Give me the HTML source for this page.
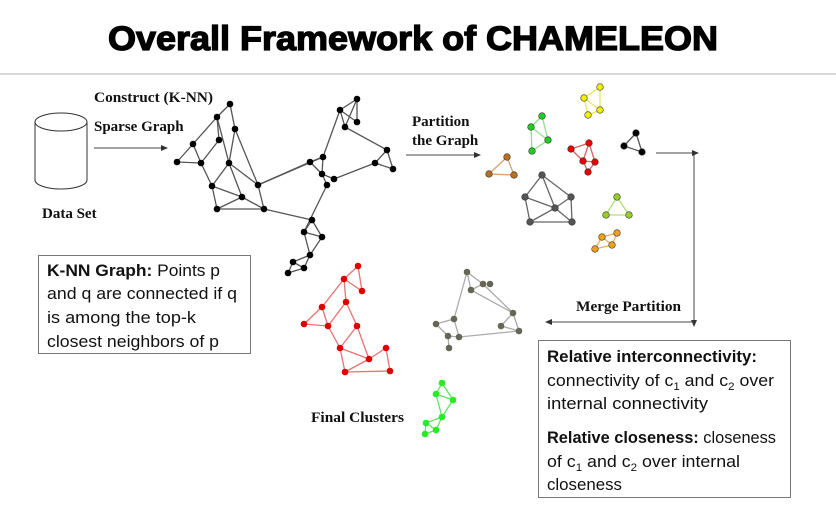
<!DOCTYPE html>
<html><head><meta charset="utf-8"><style>
html,body{margin:0;padding:0;background:#fff;width:836px;height:508px;overflow:hidden}
svg{display:block}
.serif{font-family:"Liberation Serif",serif;font-weight:bold;font-size:15px;fill:#111}
.box{font-family:"Liberation Sans",sans-serif;font-size:17px;fill:#111}
</style></head><body>
<svg id="s" width="836" height="508" viewBox="0 0 836 508">
<text x="108" y="50" textLength="610" lengthAdjust="spacingAndGlyphs" font-family="Liberation Sans,sans-serif" font-weight="900" font-size="34" stroke="#000" stroke-width="1.3" fill="#000">Overall Framework of CHAMELEON</text>
<line x1="0" y1="74" x2="836" y2="74" stroke="#ccc" stroke-width="1.5"/>
<g fill="#fff" stroke="#333" stroke-width="1">
<path d="M35 122 L35 180 A26 9 0 0 0 87 180 L87 122"/>
<ellipse cx="61" cy="122" rx="26" ry="9"/>
</g>
<text x="42" y="218" class="serif">Data Set</text>
<text x="94" y="102" class="serif" textLength="119" lengthAdjust="spacingAndGlyphs">Construct (K-NN)</text>
<text x="94" y="131" class="serif">Sparse Graph</text>
<line x1="94" y1="148" x2="163" y2="148" stroke="#444"/>
<polygon points="168,148 161,145 161,151" fill="#333"/>
<text x="412" y="126" class="serif">Partition</text>
<text x="412" y="145" class="serif">the Graph</text>
<line x1="406" y1="155" x2="476" y2="155" stroke="#444"/>
<polygon points="481,155 474,152 474,158" fill="#333"/>
<polyline points="656,153 694,153 694,322" fill="none" stroke="#444"/>
<polygon points="699,153 692,150 692,156" fill="#333"/>
<polygon points="694,327 691,320 697,320" fill="#333"/>
<line x1="549" y1="322" x2="694" y2="322" stroke="#444"/>
<polygon points="545,322 552,319 552,325" fill="#333"/>
<text x="576" y="311" class="serif" textLength="105" lengthAdjust="spacingAndGlyphs">Merge Partition</text>
<text x="311" y="422" class="serif" textLength="93" lengthAdjust="spacingAndGlyphs">Final Clusters</text>
<g id="graphs"></g>
<rect x="38.5" y="255.5" width="212" height="98" fill="none" stroke="#777"/>
<g class="box">
<text x="47" y="276" textLength="173" lengthAdjust="spacingAndGlyphs"><tspan font-weight="bold">K-NN Graph:</tspan> Points p</text>
<text x="47" y="299" textLength="190" lengthAdjust="spacingAndGlyphs">and q are connected if q</text>
<text x="47" y="323" textLength="149" lengthAdjust="spacingAndGlyphs">is among the top-k</text>
<text x="47" y="347" textLength="172" lengthAdjust="spacingAndGlyphs">closest neighbors of p</text>
</g>
<rect x="538.5" y="340.5" width="252" height="157" fill="none" stroke="#777"/>
<g class="box">
<text x="547" y="362" font-weight="bold" textLength="210" lengthAdjust="spacingAndGlyphs">Relative interconnectivity:</text>
<text x="547" y="386" textLength="227" lengthAdjust="spacingAndGlyphs">connectivity of c<tspan font-size="11" dy="4">1</tspan><tspan dy="-4"> and c</tspan><tspan font-size="11" dy="4">2</tspan><tspan dy="-4"> over</tspan></text>
<text x="547" y="409" textLength="161" lengthAdjust="spacingAndGlyphs">internal connectivity</text>
<text x="547" y="443" textLength="229" lengthAdjust="spacingAndGlyphs"><tspan font-weight="bold">Relative closeness:</tspan> closeness</text>
<text x="547" y="467" textLength="193" lengthAdjust="spacingAndGlyphs">of c<tspan font-size="11" dy="4">1</tspan><tspan dy="-4"> and c</tspan><tspan font-size="11" dy="4">2</tspan><tspan dy="-4"> over internal</tspan></text>
<text x="547" y="490" textLength="75" lengthAdjust="spacingAndGlyphs">closeness</text>
</g>
</svg>
<script>
const graphNames = ["knn-graph","final-red","final-gray","final-green","part-yellow","part-green","part-red","part-black","part-brown","part-dark","part-lime","part-orange"];
const graphEdgeColors = ["#555","#e57373","#aaa","#66e066","#e8e860","#8fe08f","#e06060","#555","#d9a070","#666","#b0e070","#f0b050"];
const graphNodeColors = ["#000","#e00000","#666655","#22ee22","#f0f000","#22cc22","#ee0000","#000","#b87020","#555","#99d020","#f0a020"];
const graphNodes = [
 [[230,104],[217,117],[235,129],[193,144],[219,140],[177,162],[201,163],[229,163],[212,186],[258,185],[242,197],[217,209],[264,209],
  [357,99],[340,110],[357,122],[345,127],[387,150],[375,163],[393,169],[310,162],[323,157],[322,174],[334,179],[327,185],
  [312,220],[304,232],[322,237],[310,255],[293,262],[304,268],[288,273]],
 [[358,266],[344,279],[362,291],[346,302],[322,307],[304,324],[328,326],[357,326],[340,348],[386,348],[369,359],[345,372],[390,371]],
 [[467,272],[483,284],[490,284],[471,290],[513,313],[454,319],[436,324],[501,326],[519,331],[448,336],[459,337],[449,348]],
 [[442,383],[436,394],[453,400],[442,417],[426,423],[436,430],[425,434]],
 [[600,87],[584,98],[600,110],[588,115]],
 [[542,116],[531,127],[548,140],[532,151]],
 [[571,149],[589,143],[583,161],[595,162],[588,172]],
 [[636,133],[624,146],[642,152]],
 [[507,157],[489,174],[514,175]],
 [[542,175],[525,197],[571,197],[555,208],[530,222],[572,222]],
 [[617,197],[606,215],[629,215]],
 [[617,233],[602,237],[612,245],[595,249]]
];
const graphEdges = [
 [[0,1],[0,2],[1,3],[1,7],[1,4],[2,7],[2,9],[3,5],[3,6],[5,6],[4,6],[6,8],[7,8],[7,9],[7,10],[8,11],[8,10],[10,11],[10,12],[9,12],[11,12],
  [9,20],[9,21],[12,25],[20,21],[20,22],[21,22],[21,14],[14,13],[14,15],[13,15],[13,16],[16,17],[14,16],[17,18],[17,19],[18,19],[18,23],[22,23],[22,24],[24,26],[25,26],[25,27],[26,27],[26,28],[27,28],[28,30],[28,29],[29,30],[29,31],[30,31]],
 [[0,1],[0,2],[1,2],[1,3],[1,4],[4,5],[4,6],[5,6],[3,6],[6,8],[7,8],[7,10],[8,11],[8,10],[10,9],[9,12],[10,11],[11,12],[3,7]],
 [[0,3],[0,5],[3,4],[1,4],[4,8],[4,7],[7,8],[8,10],[5,6],[5,10],[6,9],[9,10],[9,11],[0,1],[3,1]],
 [[0,1],[0,2],[1,2],[1,3],[2,3],[3,4],[3,5],[4,5],[4,6],[5,6]],
 [[0,1],[0,2],[1,3],[2,3],[1,2]],
 [[0,1],[0,2],[1,2],[1,3],[2,3]],
 [[0,1],[1,2],[1,3],[2,3],[2,4],[3,4],[0,2]],
 [[0,1],[0,2],[1,2]],
 [[0,1],[0,2],[1,2]],
 [[0,1],[0,2],[0,3],[1,3],[1,4],[2,3],[2,5],[3,4],[3,5],[4,5]],
 [[0,1],[0,2],[1,2]],
 [[0,1],[0,2],[1,2],[1,3],[2,3]]
];
const NS="http://www.w3.org/2000/svg";
const root=document.getElementById('graphs');
graphNodes.forEach((nodes,gi)=>{
  const g=document.createElementNS(NS,'g');
  
  
  graphEdges[gi].forEach(([a,b])=>{
    const l=document.createElementNS(NS,'line');
    l.setAttribute('x1',nodes[a][0]);l.setAttribute('y1',nodes[a][1]);
    l.setAttribute('x2',nodes[b][0]);l.setAttribute('y2',nodes[b][1]);
    l.setAttribute('stroke',graphEdgeColors[gi]);l.setAttribute('stroke-width','1.3');
    
    
    g.appendChild(l);
  });
  nodes.forEach(p=>{
    const c=document.createElementNS(NS,'circle');
    c.setAttribute('cx',p[0]);c.setAttribute('cy',p[1]);c.setAttribute('r','3.3');
    c.setAttribute('fill',graphNodeColors[gi]);
    if(gi>=4){c.setAttribute('stroke','#333');c.setAttribute('stroke-width','0.6');}
    
    
    g.appendChild(c);
  });
  root.appendChild(g);
});
</script>
</body></html>
